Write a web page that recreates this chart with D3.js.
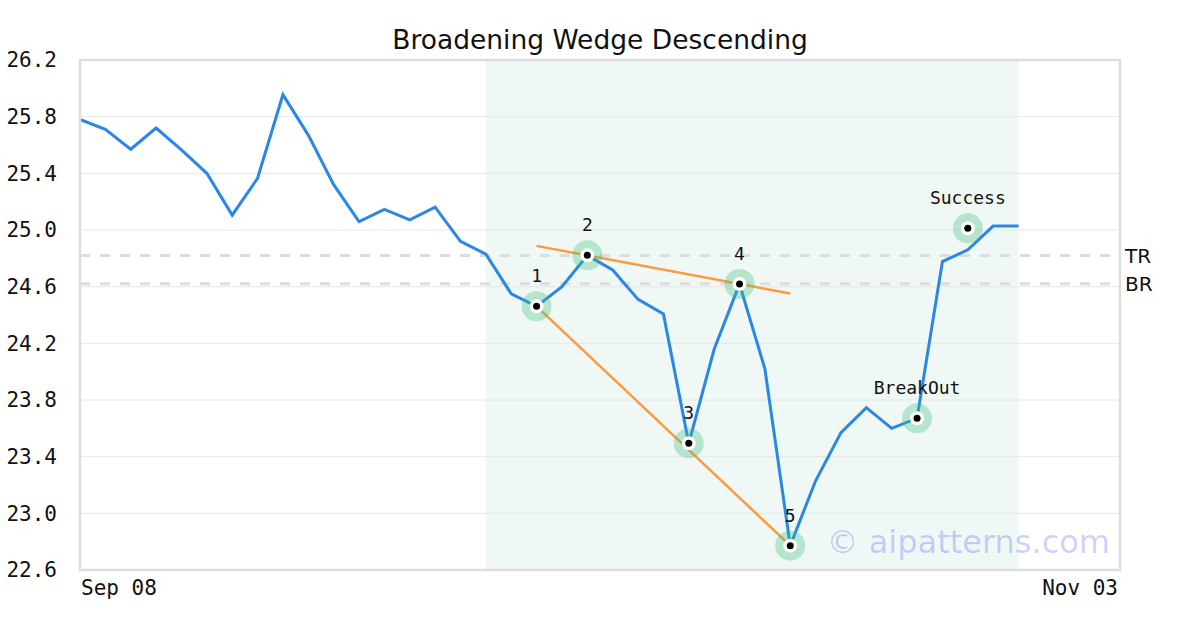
<!DOCTYPE html>
<html>
<head>
<meta charset="utf-8">
<script src="https://cdn.jsdelivr.net/npm/d3@7"></script>
<style>
  html, body { margin: 0; padding: 0; background: #fff; }
  svg { display: block; }
</style>
</head>
<body>
<div id="chart"></div>
<script>
// ---- data ----
const title = "Broadening Wedge Descending";
const prices = [25.78, 25.71, 25.57, 25.72, 25.565, 25.40, 25.105, 25.365, 25.955, 25.67,
                25.32, 25.06, 25.146, 25.071, 25.162, 24.92, 24.83, 24.55, 24.461, 24.60,
                24.821, 24.718, 24.51, 24.407, 23.494, 24.158, 24.619, 24.02, 22.772, 23.23,
                23.57, 23.746, 23.60, 23.671, 24.777, 24.86, 25.028, 25.028];
const xSlots = 42;                       // index domain 0..41
const xTickIdx = [0, 41];
const xTickLabels = ["Sep 08", "Nov 03"];
const yTicks = [22.6, 23.0, 23.4, 23.8, 24.2, 24.6, 25.0, 25.4, 25.8, 26.2];
const patternIdx = [18, 20, 24, 26, 28];
const patternLabels = ["1", "2", "3", "4", "5"];
const breakoutIdx = 33, breakoutVal = 23.671;
const successIdx = 35, successVal = 25.012;
const shadeRange = [16, 37];
const topResist = 24.82, bottomResist = 24.62;
const upperTrend = [[18, 24.888], [28, 24.552]];
const lowerTrend = [[18, 24.461], [28, 22.772]];
const watermark = "© aipatterns.com";

// ---- layout ----
const W = 1200, H = 630;
const L = 80, R = 1120, T = 60, B = 570;
const svg = d3.select("#chart").append("svg").attr("width", W).attr("height", H);

const x = d3.scaleLinear().domain([0, xSlots - 1]).range([L, R]);
const y = d3.scaleLinear().domain([22.6, 26.2]).range([B, T]);

const mono = "'DejaVu Sans Mono', monospace";
const sans = "'DejaVu Sans', sans-serif";

// shaded area
svg.append("rect")
  .attr("x", x(shadeRange[0])).attr("y", T)
  .attr("width", x(shadeRange[1]) - x(shadeRange[0])).attr("height", B - T)
  .attr("fill", "#eff8f4");

// gridlines
svg.append("g").selectAll("line").data(yTicks).join("line")
  .attr("x1", L).attr("x2", R)
  .attr("y1", d => y(d)).attr("y2", d => y(d))
  .attr("stroke", "#e6e6e6").attr("stroke-width", 1);

// y axis labels
const yAxis = d3.axisLeft(y).tickValues(yTicks).tickFormat(d3.format(".1f")).tickSize(0).tickPadding(23);
const gy = svg.append("g").attr("transform", `translate(${L},0)`).call(yAxis);
gy.select(".domain").remove();
gy.selectAll("text").attr("font-family", mono).attr("font-size", 21).attr("fill", "#111");

// x axis labels
svg.append("g").selectAll("text").data(xTickIdx).join("text")
  .attr("x", (d, i) => i === 0 ? x(d) + 1 : x(d) - 2)
  .attr("y", 595)
  .attr("text-anchor", (d, i) => i === 0 ? "start" : "end")
  .attr("font-family", mono).attr("font-size", 21).attr("fill", "#111")
  .text((d, i) => xTickLabels[i]);

// resistance dashed lines
[topResist, bottomResist].forEach(v => {
  svg.append("line")
    .attr("x1", L).attr("x2", R).attr("y1", y(v)).attr("y2", y(v))
    .attr("stroke", "#dddddd").attr("stroke-width", 3).attr("stroke-dasharray", "10,10");
});
svg.append("text").attr("x", 1125).attr("y", y(topResist)).attr("dy", "0.35em")
  .attr("font-family", sans).attr("font-size", 20).attr("fill", "#111").text("TR");
svg.append("text").attr("x", 1125).attr("y", y(bottomResist)).attr("dy", "0.35em")
  .attr("font-family", sans).attr("font-size", 20).attr("fill", "#111").text("BR");

// price line
const line = d3.line().x((d, i) => x(i)).y(d => y(d));
svg.append("path").datum(prices).attr("d", line)
  .attr("fill", "none").attr("stroke", "#2b87e6").attr("stroke-width", 3)
  .attr("stroke-linejoin", "miter");

// trend lines
const tl = d3.line().x(d => x(d[0])).y(d => y(d[1]));
[upperTrend, lowerTrend].forEach(seg => {
  svg.append("path").datum(seg).attr("d", tl)
    .attr("fill", "none").attr("stroke", "#fb9a3f").attr("stroke-width", 2.5);
});

// markers
const markers = patternIdx.map((idx, i) => ({ idx, v: prices[idx], label: patternLabels[i] }))
  .concat([{ idx: breakoutIdx, v: breakoutVal, label: "BreakOut" },
           { idx: successIdx, v: successVal, label: "Success" }]);
const mg = svg.append("g");
mg.selectAll(".halo").data(markers).join("circle")
  .attr("cx", d => x(d.idx)).attr("cy", d => y(d.v)).attr("r", 15)
  .attr("fill", "rgba(60,190,125,0.32)");
mg.selectAll(".white").data(markers).join("circle")
  .attr("cx", d => x(d.idx)).attr("cy", d => y(d.v)).attr("r", 7)
  .attr("fill", "#fff");
mg.selectAll(".dot").data(markers).join("circle")
  .attr("cx", d => x(d.idx)).attr("cy", d => y(d.v)).attr("r", 3.5)
  .attr("fill", "#000");
mg.selectAll("text").data(markers).join("text")
  .attr("x", d => x(d.idx)).attr("y", d => y(d.v) - 24)
  .attr("text-anchor", "middle")
  .attr("font-family", mono).attr("font-size", 18).attr("fill", "#111")
  .text(d => d.label);

// watermark
svg.append("text").attr("x", 1110).attr("y", 553).attr("text-anchor", "end")
  .attr("font-family", sans).attr("font-size", 32).attr("fill", "rgba(0,0,255,0.19)")
  .text(watermark);

// frame
svg.append("rect").attr("x", L).attr("y", T).attr("width", R - L).attr("height", B - T)
  .attr("fill", "none").attr("stroke", "#dddddd").attr("stroke-width", 2.5);

// title
svg.append("text").attr("x", 600).attr("y", 49).attr("text-anchor", "middle")
  .attr("font-family", sans).attr("font-size", 26.5).attr("fill", "#111").text(title);
</script>
</body>
</html>
